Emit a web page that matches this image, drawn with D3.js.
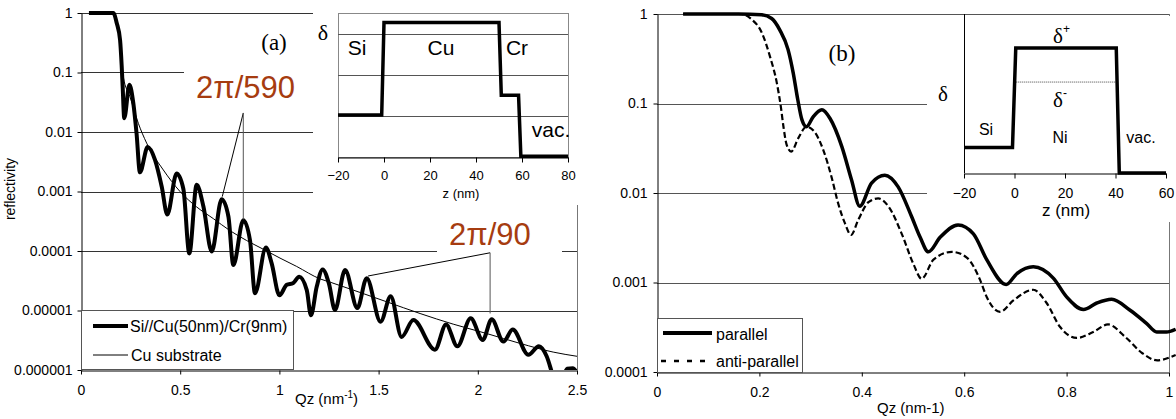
<!DOCTYPE html>
<html><head><meta charset="utf-8">
<script src="https://cdn.jsdelivr.net/npm/d3@7"></script>
<style>body{margin:0;background:#fff} svg{display:block}</style>
</head><body>
<svg id="c" width="1176" height="419"></svg>
<script>
// ---------- DATA ----------
// Panel (a): Si//Cu(50nm)/Cr(9nm) film
const qFilm = [0.04,0.163,0.18,0.197,0.205,0.21,0.218,0.244,0.264,0.28,0.297,0.336,0.373,0.407,0.435,0.482,0.516,0.546,0.583,0.617,0.659,0.709,0.743,0.768,0.818,0.852,0.877,0.932,0.961,1.0,1.037,1.07,1.1,1.138,1.159,1.188,1.218,1.25,1.28,1.331,1.393,1.44,1.51,1.561,1.616,1.675,1.784,1.84,1.897,1.964,2.025,2.07,2.129,2.176,2.255,2.308,2.347,2.38,2.41,2.45,2.48,2.5];
const rFilm = [1,1,0.68,0.35,0.13,0.058,0.017,0.062,0.030,0.0095,0.0021,0.0056,0.0034,0.0012,0.00041,0.0020,0.0011,0.000091,0.0013,0.00056,0.000098,0.00074,0.00038,0.000058,0.00033,0.00015,0.0000195,0.000115,0.000062,0.000018,0.000027,0.000029,0.000037,0.000022,0.0000083,0.000025,0.000049,0.000028,0.0000102,0.000048,0.000011,0.000035,0.0000065,0.0000174,0.0000036,0.0000069,0.0000022,0.0000058,0.0000025,0.0000074,0.0000032,0.0000071,0.0000030,0.0000048,0.0000018,0.0000025,0.0000017,0.00000079,0.0000005,0.00000105,0.00000107,0.00000089];
// Panel (a): Cu substrate
const qCu = [0.205,0.213,0.247,0.289,0.331,0.415,0.499,0.583,0.667,0.751,0.835,0.919,1.003,1.087,1.205,1.255,1.373,1.541,1.709,1.876,2.045,2.213,2.38,2.5];
const rCu = [0.14,0.085,0.039,0.014,0.0065,0.0023,0.001,0.00055,0.00035,0.00022,0.00015,0.000107,0.000076,0.000055,0.000034,0.00003,0.000022,0.000014,0.0000089,0.0000059,0.0000041,0.0000028,0.000002,0.0000017];
// Panel (b): parallel
const qPar = [0.051,0.159,0.204,0.224,0.24,0.256,0.266,0.275,0.283,0.292,0.305,0.322,0.338,0.361,0.380,0.396,0.419,0.445,0.471,0.497,0.514,0.530,0.553,0.588,0.618,0.644,0.682,0.703,0.735,0.774,0.8,0.833,0.859,0.888,0.924,0.956,0.976,0.995,1.013];
const rPar = [1,1,0.98,0.89,0.66,0.40,0.22,0.11,0.066,0.055,0.071,0.085,0.068,0.033,0.014,0.0071,0.0129,0.0158,0.0117,0.0055,0.0032,0.0022,0.0032,0.0044,0.0035,0.0018,0.00095,0.00126,0.0015,0.00112,0.00069,0.0005,0.00059,0.00065,0.00049,0.00035,0.00028,0.00028,0.0003];
// Panel (b): anti-parallel
const qAnti = [0.051,0.165,0.185,0.204,0.221,0.234,0.242,0.247,0.253,0.262,0.276,0.292,0.309,0.325,0.341,0.354,0.367,0.379,0.393,0.413,0.432,0.452,0.478,0.501,0.517,0.540,0.576,0.605,0.631,0.644,0.670,0.696,0.735,0.761,0.787,0.820,0.852,0.881,0.915,0.948,0.977,1.013];
const rAnti = [1,1,0.87,0.63,0.33,0.17,0.091,0.055,0.035,0.029,0.041,0.055,0.047,0.030,0.015,0.0076,0.0046,0.0034,0.005,0.0079,0.0087,0.0071,0.0035,0.0016,0.0011,0.0018,0.0022,0.0019,0.00107,0.00069,0.00047,0.00063,0.00083,0.00059,0.00032,0.00024,0.00028,0.00034,0.000245,0.000162,0.000135,0.000155];
// Insets: delta profiles
const zProfA = [-20,-1,0,50,51,58.5,59.5,80];
const dProfA = [1.02,1.02,3.27,3.27,1.5,1.5,0.02,0.02];
const zProfB = [-20,-0.8,0.5,40.3,41.5,60];
const dProfB = [0.8,0.8,3.93,3.93,0,0];
const zDeltaMinus = [0.5,40.3];
const dDeltaMinus = [2.86,2.86];
// Ticks
const yTicksA = [1,0.1,0.01,0.001,0.0001,0.00001,0.000001];
const yLabelsA = ["1","0.1","0.01","0.001","0.0001","0.00001","0.000001"];
const xTicksA = [0,0.5,1,1.5,2,2.5];
const xLabelsA = ["0","0.5","1","1.5","2","2.5"];
const yTicksB = [1,0.1,0.01,0.001,0.0001];
const yLabelsB = ["1","0.1","0.01","0.001","0.0001"];
const xTicksB = [0,0.2,0.4,0.6,0.8,1];
const xLabelsB = ["0","0.2","0.4","0.6","0.8","1"];
const zTicksA = [-20,0,20,40,60,80];
const zTicksB = [-20,0,20,40,60];
const gridInsetA = [1,2,3];

// ---------- DRAW ----------
const SANS = "'Liberation Sans', Arial, sans-serif";
const SERIF = "'Liberation Serif', 'Times New Roman', serif";
const BROWN = "#A63C10";
const svg = d3.select("#c");

const xA = d3.scaleLinear([0,2.5],[81,577]);
const yA = d3.scaleLog([1e-6,1],[370,13]);
const xB = d3.scaleLinear([0,1],[657,1169]);
const yB = d3.scaleLog([1e-4,1],[372,14]);
const xIA = d3.scaleLinear([-20,80],[338,568]);
const yIA = d3.scaleLinear([0,3.5],[157,13]);
const xIB = d3.scaleLinear([-20,60],[964,1166]);
const yIB = d3.scaleLinear([0,5],[173,14]);

function styleAxis(g, size){
  g.attr("font-family", SANS).attr("font-size", size);
  g.selectAll("path.domain").attr("stroke","#000");
  g.selectAll(".tick line").attr("stroke","#000");
  g.selectAll("text").attr("fill","#000");
}
function zip(a,b){ return a.map((v,i)=>[v,b[i]]); }

// ===== Panel (a) =====
const gA = svg.append("g");
gA.selectAll("line.grid").data(yTicksA.slice(0,-1)).join("line")
  .attr("x1",xA(0)).attr("x2",xA(2.5))
  .attr("y1",d=>Math.round(yA(d))+0.5).attr("y2",d=>Math.round(yA(d))+0.5)
  .attr("stroke","#333").attr("stroke-width",1);
gA.append("line").attr("x1",xA(2.5)+0.5).attr("x2",xA(2.5)+0.5).attr("y1",yA(1)).attr("y2",yA(1e-6)).attr("stroke","#777");
gA.append("rect").attr("x",184).attr("y",60).attr("width",130).attr("height",48).attr("fill","#fff");
gA.append("rect").attr("x",437).attr("y",214).attr("width",125).attr("height",39).attr("fill","#fff");

const clipA = svg.append("clipPath").attr("id","clipA").append("rect")
  .attr("x",xA(0)).attr("y",0).attr("width",xA(2.5)-xA(0)).attr("height",yA(1e-6));
const lineA = d3.line().x(d=>xA(d[0])).y(d=>yA(d[1])).curve(d3.curveMonotoneX);
const curvesA = gA.append("g").attr("clip-path","url(#clipA)");
curvesA.append("path").attr("d",lineA(zip(qCu,rCu))).attr("fill","none").attr("stroke","#000").attr("stroke-width",1);
curvesA.append("path").attr("d",lineA(zip(qFilm,rFilm))).attr("fill","none").attr("stroke","#000").attr("stroke-width",4).attr("stroke-linejoin","round");

const apexA1 = [xA(0.818), yA(10**-1.68)];
gA.append("line").attr("x1",apexA1[0]).attr("y1",apexA1[1]).attr("x2",xA(0.712)).attr("y2",yA(0.00082)).attr("stroke","#000");
gA.append("line").attr("x1",apexA1[0]).attr("y1",apexA1[1]).attr("x2",apexA1[0]).attr("y2",yA(0.00034)).attr("stroke","#555");
const apexA2 = [xA(2.062), yA(10**-4.03)];
gA.append("line").attr("x1",apexA2[0]).attr("y1",apexA2[1]).attr("x2",xA(1.447)).attr("y2",yA(10**-4.42)).attr("stroke","#000");
gA.append("line").attr("x1",apexA2[0]).attr("y1",apexA2[1]).attr("x2",apexA2[0]).attr("y2",yA(10**-5.05)).attr("stroke","#555");
gA.append("text").attr("x",196).attr("y",98).attr("font-family",SANS).attr("font-size",31).attr("fill",BROWN).text("2π/590");
gA.append("text").attr("x",449).attr("y",245).attr("font-family",SANS).attr("font-size",31).attr("fill",BROWN).text("2π/90");
gA.append("text").attr("x",274).attr("y",50).attr("text-anchor","middle").attr("font-family",SERIF).attr("font-size",23).text("(a)");

const axAy = gA.append("g").attr("transform",`translate(${xA(0)+0.5},0)`)
  .call(d3.axisLeft(yA).tickValues(yTicksA).tickFormat((d,i)=>yLabelsA[i]).tickSize(4).tickSizeOuter(0).tickPadding(5));
styleAxis(axAy,14);
const axAx = gA.append("g").attr("transform",`translate(0,${yA(1e-6)+0.5})`)
  .call(d3.axisBottom(xA).tickValues(xTicksA).tickFormat((d,i)=>xLabelsA[i]).tickSize(4).tickSizeOuter(0).tickPadding(11));
styleAxis(axAx,14);
const xlabA = gA.append("text").attr("x",295).attr("y",404).attr("font-family",SANS).attr("font-size",15);
xlabA.append("tspan").text("Qz (nm");
xlabA.append("tspan").attr("font-size",10).attr("dy",-6).text("-1");
xlabA.append("tspan").attr("dy",6).text(")");
gA.append("text").attr("transform","translate(15,189) rotate(-90)").attr("text-anchor","middle")
  .attr("font-family",SANS).attr("font-size",14).text("reflectivity");

const lgA = gA.append("g");
lgA.append("rect").attr("x",xA(0)+0.5).attr("y",310.5).attr("width",212).attr("height",59).attr("fill","#fff").attr("stroke","#555");
lgA.append("line").attr("x1",93).attr("x2",128).attr("y1",326).attr("y2",326).attr("stroke","#000").attr("stroke-width",4);
lgA.append("text").attr("x",130).attr("y",332).attr("font-family",SANS).attr("font-size",16).text("Si//Cu(50nm)/Cr(9nm)");
lgA.append("line").attr("x1",93).attr("x2",128).attr("y1",355).attr("y2",355).attr("stroke","#000").attr("stroke-width",1);
lgA.append("text").attr("x",131).attr("y",361).attr("font-family",SANS).attr("font-size",16).text("Cu substrate");

// inset (a)
const iA = svg.append("g");
iA.append("rect").attr("x",313).attr("y",0).attr("width",267).attr("height",205).attr("fill","#fff");
iA.append("rect").attr("x",xIA(-20)+0.5).attr("y",yIA(3.5)+0.5).attr("width",xIA(80)-xIA(-20)).attr("height",yIA(0)-yIA(3.5)).attr("fill","none").attr("stroke","#888");
iA.selectAll("line.g").data(gridInsetA).join("line")
  .attr("x1",xIA(-20)).attr("x2",xIA(80)).attr("y1",d=>Math.round(yIA(d))+0.5).attr("y2",d=>Math.round(yIA(d))+0.5).attr("stroke","#555");
const axIA = iA.append("g").attr("transform",`translate(0,${yIA(0)+0.5})`)
  .call(d3.axisBottom(xIA).tickValues(zTicksA).tickSize(5).tickSizeOuter(0).tickPadding(8));
styleAxis(axIA,13);
iA.append("path").attr("d",d3.line().x(d=>xIA(d[0])).y(d=>yIA(d[1]))(zip(zProfA,dProfA)))
  .attr("fill","none").attr("stroke","#000").attr("stroke-width",3.5);
iA.append("text").attr("x",461).attr("y",198).attr("text-anchor","middle").attr("font-family",SANS).attr("font-size",13).text("z (nm)");
iA.append("text").attr("x",323).attr("y",40).attr("text-anchor","middle").attr("font-family",SERIF).attr("font-size",22).text("δ");
[["Si",357,55],["Cu",441,55],["Cr",517,55],["vac.",551,137]].forEach(t=>
  iA.append("text").attr("x",t[1]).attr("y",t[2]).attr("text-anchor","middle").attr("font-family",SANS).attr("font-size",21).text(t[0]));

// ===== Panel (b) =====
const gB = svg.append("g");
gB.selectAll("line.grid").data(yTicksB.slice(0,-1)).join("line")
  .attr("x1",xB(0)).attr("x2",xB(1))
  .attr("y1",d=>Math.round(yB(d))+0.5).attr("y2",d=>Math.round(yB(d))+0.5)
  .attr("stroke","#555").attr("stroke-width",1);
gB.append("line").attr("x1",xB(1)+0.5).attr("x2",xB(1)+0.5).attr("y1",yB(1)).attr("y2",yB(1e-4)).attr("stroke","#777");
gB.append("rect").attr("x",927).attr("y",16).attr("width",249).attr("height",206).attr("fill","#fff");

const lineB = d3.line().x(d=>xB(d[0])).y(d=>yB(d[1])).curve(d3.curveMonotoneX);
gB.append("path").attr("d",lineB(zip(qAnti,rAnti))).attr("fill","none").attr("stroke","#000").attr("stroke-width",2.2).attr("stroke-dasharray","6,3");
gB.append("path").attr("d",lineB(zip(qPar,rPar))).attr("fill","none").attr("stroke","#000").attr("stroke-width",3.5);
gB.append("text").attr("x",842).attr("y",61).attr("text-anchor","middle").attr("font-family",SERIF).attr("font-size",23).text("(b)");

const axBy = gB.append("g").attr("transform",`translate(${xB(0)+0.5},0)`)
  .call(d3.axisLeft(yB).tickValues(yTicksB).tickFormat((d,i)=>yLabelsB[i]).tickSize(4).tickSizeOuter(0).tickPadding(6));
styleAxis(axBy,14);
const axBx = gB.append("g").attr("transform",`translate(0,${yB(1e-4)+0.5})`)
  .call(d3.axisBottom(xB).tickValues(xTicksB).tickFormat((d,i)=>xLabelsB[i]).tickSize(4).tickSizeOuter(0).tickPadding(11));
styleAxis(axBx,14);
gB.append("text").attr("x",877).attr("y",413).attr("font-family",SANS).attr("font-size",15).text("Qz (nm-1)");

const lgB = gB.append("g");
lgB.append("rect").attr("x",xB(0)+0.5).attr("y",318.5).attr("width",145).attr("height",54).attr("fill","#fff").attr("stroke","#555");
lgB.append("line").attr("x1",663).attr("x2",712).attr("y1",333).attr("y2",333).attr("stroke","#000").attr("stroke-width",4);
lgB.append("text").attr("x",716).attr("y",340).attr("font-family",SANS).attr("font-size",16).text("parallel");
lgB.append("line").attr("x1",661).attr("x2",713).attr("y1",361).attr("y2",361).attr("stroke","#000").attr("stroke-width",2.5).attr("stroke-dasharray","5,8");
lgB.append("text").attr("x",716).attr("y",367).attr("font-family",SANS).attr("font-size",16).text("anti-parallel");

// inset (b)
const iB = svg.append("g");
const axIBx = iB.append("g").attr("transform",`translate(0,${yIB(0)+0.5})`)
  .call(d3.axisBottom(xIB).tickValues(zTicksB).tickSize(5).tickSizeOuter(0).tickPadding(10));
styleAxis(axIBx,14);
iB.append("line").attr("x1",xIB(-20)+0.5).attr("x2",xIB(-20)+0.5).attr("y1",yIB(5)).attr("y2",yIB(0)).attr("stroke","#000");
iB.append("path").attr("d",d3.line().x(d=>xIB(d[0])).y(d=>yIB(d[1]))(zip(zDeltaMinus,dDeltaMinus)))
  .attr("fill","none").attr("stroke","#444").attr("stroke-width",1).attr("stroke-dasharray","1,1");
iB.append("path").attr("d",d3.line().x(d=>xIB(d[0])).y(d=>yIB(d[1]))(zip(zProfB,dProfB)))
  .attr("fill","none").attr("stroke","#000").attr("stroke-width",3.5);
iB.append("text").attr("x",1066).attr("y",216).attr("text-anchor","middle").attr("font-family",SANS).attr("font-size",17).text("z (nm)");
iB.append("text").attr("x",943).attr("y",101).attr("text-anchor","middle").attr("font-family",SERIF).attr("font-size",21).text("δ");
const dp = iB.append("text").attr("x",1053).attr("y",43).attr("font-family",SERIF).attr("font-size",21);
dp.append("tspan").text("δ"); dp.append("tspan").attr("font-family",SANS).attr("font-size",12).attr("dy",-10).text("+");
const dm = iB.append("text").attr("x",1053).attr("y",107).attr("font-family",SERIF).attr("font-size",21);
dm.append("tspan").text("δ"); dm.append("tspan").attr("font-family",SANS).attr("font-size",12).attr("dy",-10).text("-");
[["Si",986,135],["Ni",1060,143],["vac.",1141,143]].forEach(t=>
  iB.append("text").attr("x",t[1]).attr("y",t[2]).attr("text-anchor","middle").attr("font-family",SANS).attr("font-size",16).text(t[0]));
</script>
</body></html>
